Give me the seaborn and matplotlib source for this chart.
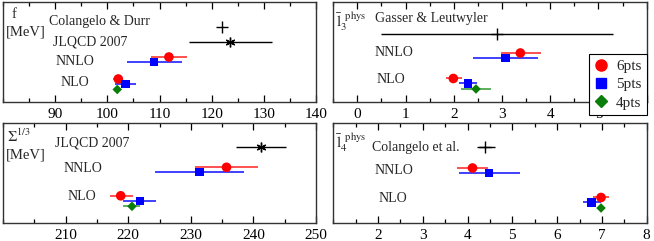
import numpy as np
import pandas as pd
import seaborn as sns
import matplotlib.pyplot as plt
from matplotlib.lines import Line2D
from matplotlib.ticker import MultipleLocator

# Series of the three fits (6, 5 and 4 points)
fits = ['6pts', '5pts', '4pts']
colores_marca = {'6pts': '#ff0000', '5pts': '#0000ff', '4pts': '#0a7d0a'}
colores_barra = {'6pts': '#ff5050', '5pts': '#4040ff', '4pts': '#5cb05c'}
marcas = {'6pts': 'o', '5pts': 's', '4pts': 'D'}
tamanos = {'6pts': 48, '5pts': 36, '4pts': 24}

# f [MeV]
f_nlo = [102.1, 103.5, 101.9]
f_nlo_lo = [101.0, 101.5, 101.7]
f_nlo_hi = [103.0, 105.5, 102.1]
f_nnlo = [111.8, 109.0]
f_nnlo_lo = [108.3, 103.7]
f_nnlo_hi = [115.2, 114.4]
f_ref_nombres = ['Colangelo & Durr', 'JLQCD 2007']
f_ref = [122.0, 123.5]
f_ref_lo = [122.0, 115.6]
f_ref_hi = [122.0, 131.5]

# l3 bar phys
l3_nlo = [1.99, 2.30, 2.46]
l3_nlo_lo = [1.84, 2.11, 2.15]
l3_nlo_hi = [2.16, 2.48, 2.77]
l3_nnlo = [3.38, 3.07]
l3_nnlo_lo = [2.97, 2.39]
l3_nnlo_hi = [3.80, 3.75]
l3_ref_nombres = ['Gasser & Leutwyler']
l3_ref = [2.9]
l3_ref_lo = [0.5]
l3_ref_hi = [5.3]

# Sigma^(1/3) [MeV]
s_nlo = [218.8, 221.9, 220.6]
s_nlo_lo = [217.1, 219.2, 219.2]
s_nlo_hi = [220.7, 224.4, 221.9]
s_nnlo = [235.7, 231.4]
s_nnlo_lo = [230.7, 224.3]
s_nnlo_hi = [240.8, 238.5]
s_ref_nombres = ['JLQCD 2007']
s_ref = [241.2]
s_ref_lo = [237.2]
s_ref_hi = [245.2]

# l4 bar phys
l4_nlo = [6.98, 6.77, 6.98]
l4_nlo_lo = [6.81, 6.57, 6.98]
l4_nlo_hi = [7.15, 6.98, 6.98]
l4_nnlo = [4.11, 4.48]
l4_nnlo_lo = [3.77, 3.81]
l4_nnlo_hi = [4.46, 5.17]
l4_ref_nombres = ['Colangelo et al.']
l4_ref = [4.40]
l4_ref_lo = [4.20]
l4_ref_hi = [4.61]

sns.set_theme(style="white")
plt.rcParams['font.family'] = ['Liberation Serif', 'DejaVu Serif']
plt.rcParams['mathtext.fontset'] = 'stix'

fig = plt.figure(figsize=(6.54, 2.41), dpi=100)

ASTERISCO = (6, 2, 0)


def panel(rect, nlo, nlo_lo, nlo_hi, nnlo, nnlo_lo, nnlo_hi,
          ref, ref_lo, ref_hi, ref_nombres, ref_marcas,
          filas, textos, xlim, mayores, menor):
    ax = fig.add_axes(rect)
    # filas: y de NLO, NNLO y de las referencias
    y_nlo, y_nnlo, y_refs = filas
    desplaz = {'6pts': 0.05, '5pts': 0.0, '4pts': -0.055}
    df = pd.DataFrame({
        'fit': fits + fits[:2],
        'valor': nlo + nnlo,
        'lo': nlo_lo + nnlo_lo,
        'hi': nlo_hi + nnlo_hi,
        'nivel': [y_nlo] * 3 + [y_nnlo] * 2,
    })
    df['y'] = df['nivel'] + df['fit'].map(desplaz)
    for _, r in df.iterrows():
        ax.hlines(r['y'], r['lo'], r['hi'], colors=colores_barra[r['fit']], lw=1.4, zorder=2)
    sns.scatterplot(data=df, x='valor', y='y', hue='fit', style='fit', size='fit',
                    palette=colores_marca, markers=marcas, sizes=tamanos,
                    edgecolor='none', legend=False, ax=ax, zorder=3)
    for v, lo, hi, y, m in zip(ref, ref_lo, ref_hi, y_refs, ref_marcas):
        ax.hlines(y, lo, hi, colors='black', lw=1.0, zorder=2)
        ax.plot([v], [y], marker=m, color='black', ms=9 if m == '+' else 7,
                mew=1.0, ls='none', zorder=3)
    for t, x, y in textos:
        ax.text(x, y, t, transform=ax.transAxes, fontsize=10, va='center', ha='left')
    ax.set_xlim(*xlim)
    ax.set_ylim(0, 1)
    ax.set_xticks(mayores)
    ax.xaxis.set_minor_locator(MultipleLocator(menor))
    ax.set_yticks([])
    ax.set_xlabel('')
    ax.set_ylabel('')
    ax.tick_params(axis='x', which='both', direction='in', top=True, bottom=True,
                   labelsize=11, pad=4, colors='black')
    ax.tick_params(axis='x', which='major', length=5, width=0.9)
    ax.tick_params(axis='x', which='minor', length=3, width=0.9)
    for sp in ax.spines.values():
        sp.set_color('#333333')
        sp.set_linewidth(1.0)
    return ax


ax1 = panel([0.0046, 0.5768, 0.4786, 0.415],
            f_nlo, f_nlo_lo, f_nlo_hi, f_nnlo, f_nnlo_lo, f_nnlo_hi,
            f_ref, f_ref_lo, f_ref_hi, f_ref_nombres, ['+', ASTERISCO],
            (0.18, 0.40, [0.75, 0.60]),
            [('Colangelo & Durr', 0.147, 0.80), ('JLQCD 2007', 0.16, 0.60),
             ('NNLO', 0.169, 0.40), ('NLO', 0.185, 0.19)],
            (80, 140), [90, 100, 110, 120, 130, 140], 5)
ax1.text(0.026, 0.87, 'f', transform=ax1.transAxes, fontsize=10.5, va='center')
ax1.text(0.008, 0.70, '[MeV]', transform=ax1.transAxes, fontsize=10.5, va='center')

ax2 = panel([0.5096, 0.5768, 0.4792, 0.415],
            l3_nlo, l3_nlo_lo, l3_nlo_hi, l3_nnlo, l3_nnlo_lo, l3_nnlo_hi,
            l3_ref, l3_ref_lo, l3_ref_hi, l3_ref_nombres, ['+'],
            (0.185, 0.44, [0.677]),
            [('Gasser & Leutwyler', 0.133, 0.837), ('NNLO', 0.133, 0.493),
             ('NLO', 0.138, 0.22)],
            (-0.5, 6), [0, 1, 2, 3, 4, 5, 6], 0.5)
ax2.set_xticklabels(['0', '1', '2', '3', '4', '5', ''])
ax2.text(0.01, 0.80, r'$\bar{\mathrm{l}}_3^{\;\;\mathrm{phys}}$', transform=ax2.transAxes,
         fontsize=11, va='center')

ax3 = panel([0.0046, 0.0747, 0.4786, 0.415],
            s_nlo, s_nlo_lo, s_nlo_hi, s_nnlo, s_nnlo_lo, s_nnlo_hi,
            s_ref, s_ref_lo, s_ref_hi, s_ref_nombres, [ASTERISCO],
            (0.222, 0.507, [0.763]),
            [('JLQCD 2007', 0.166, 0.797), ('NNLO', 0.192, 0.547),
             ('NLO', 0.207, 0.263)],
            (200, 250), [210, 220, 230, 240, 250], 5)
ax3.text(0.013, 0.87, r'$\Sigma^{\mathit{1/3}}$', transform=ax3.transAxes, fontsize=10.5, va='center')
ax3.text(0.008, 0.68, '[MeV]', transform=ax3.transAxes, fontsize=10.5, va='center')

ax4 = panel([0.5096, 0.0747, 0.4792, 0.415],
            l4_nlo, l4_nlo_lo, l4_nlo_hi, l4_nnlo, l4_nnlo_lo, l4_nnlo_hi,
            l4_ref, l4_ref_lo, l4_ref_hi, l4_ref_nombres, ['+'],
            (0.205, 0.50, [0.757]),
            [('Colangelo et al.', 0.1225, 0.757), ('NNLO', 0.131, 0.523),
             ('NLO', 0.144, 0.247)],
            (1, 8), [2, 3, 4, 5, 6, 7, 8], 0.5)
ax4.text(0.01, 0.80, r'$\bar{\mathrm{l}}_4^{\;\;\mathrm{phys}}$', transform=ax4.transAxes,
         fontsize=11, va='center')

handles = [Line2D([], [], marker=marcas[k], color=colores_marca[k], ls='none',
                  ms={'6pts': 8, '5pts': 7, '4pts': 6}[k])
           for k in fits]
leg = ax2.legend(handles, fits, loc='lower right', bbox_to_anchor=(1.0, -0.13),
                 fontsize=11, frameon=True, fancybox=False, framealpha=1,
                 edgecolor='black', handlelength=0.8, handletextpad=0.6,
                 borderpad=0.35, labelspacing=0.3, borderaxespad=0)
leg.get_frame().set_linewidth(0.8)
leg.set_zorder(10)

fig.savefig('out.png', dpi=100)
